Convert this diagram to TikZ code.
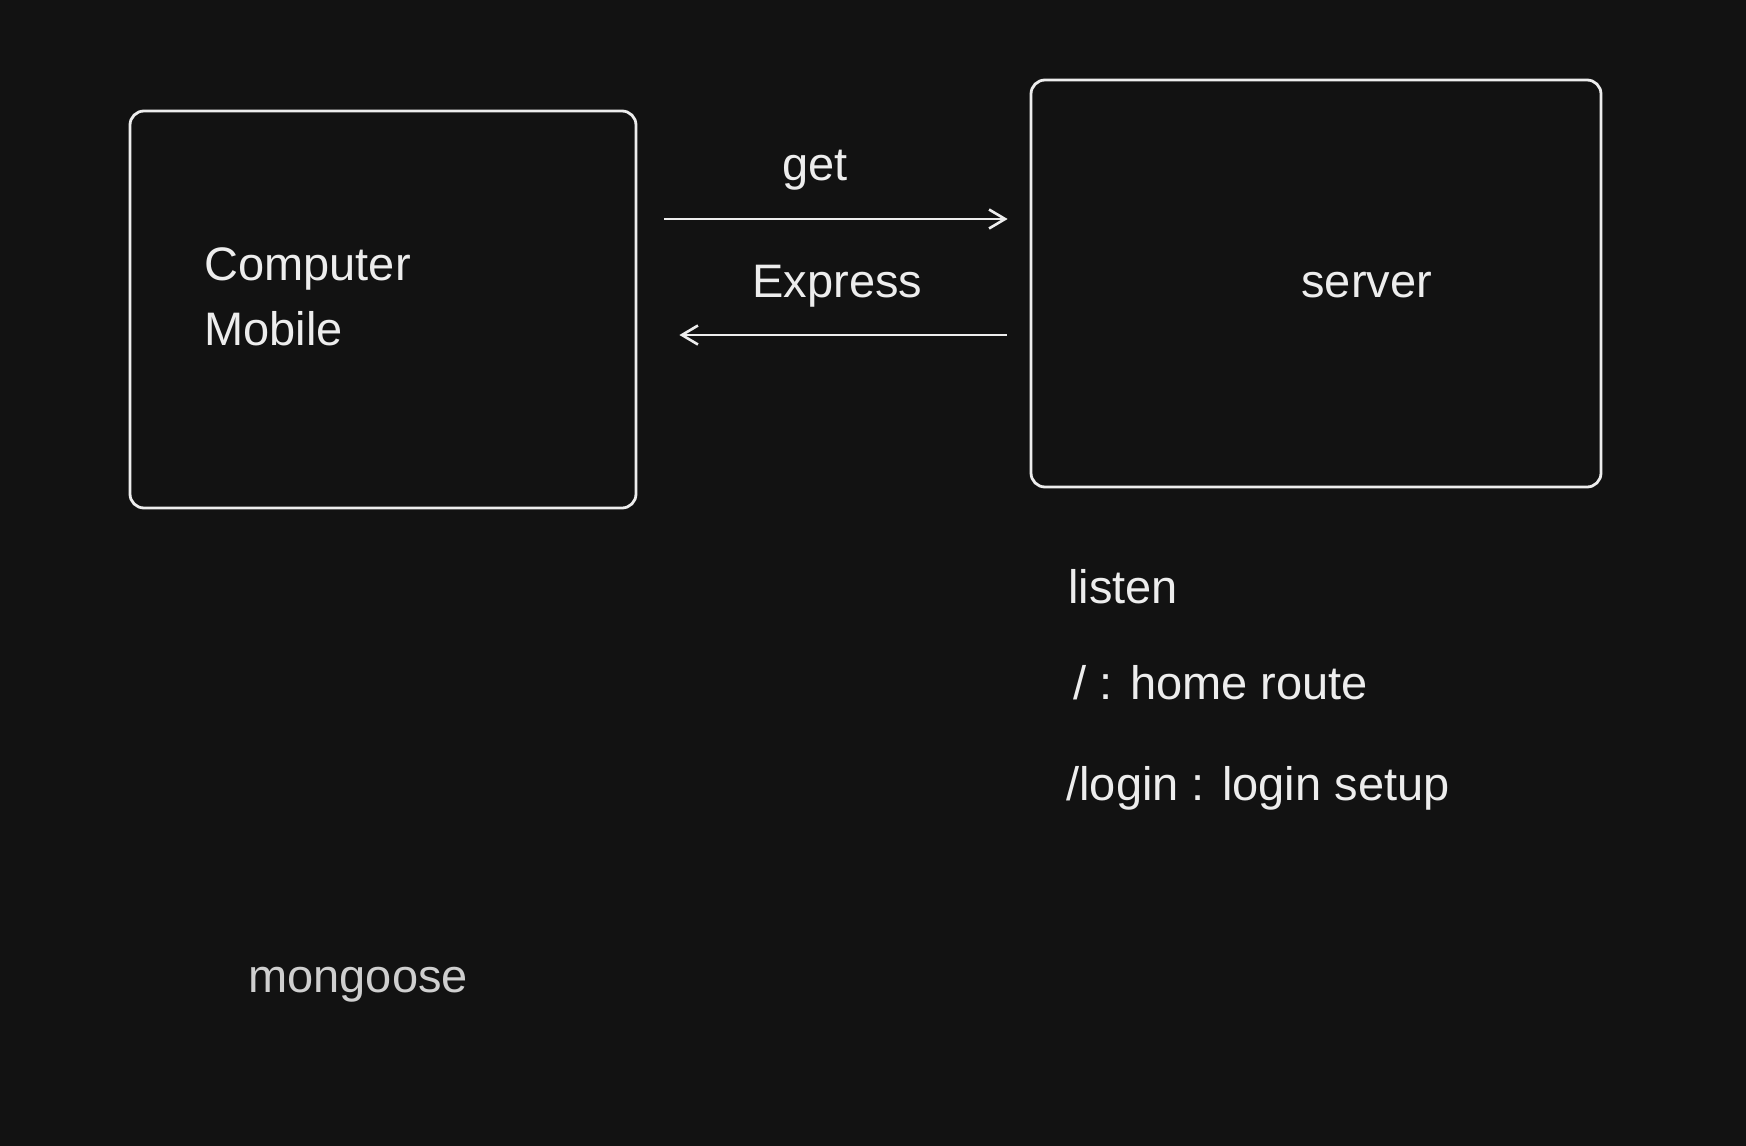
\documentclass[tikz,border=0pt]{standalone}
\usepackage{fontspec}
\setmainfont{Liberation Sans}
\usetikzlibrary{arrows.meta,positioning}
\definecolor{board}{HTML}{121212}
\definecolor{chalk}{HTML}{EDEDED}
\definecolor{dimchalk}{HTML}{CFCFCF}

\begin{document}
\begin{tikzpicture}[x=0.5pt, y=-0.5pt,
    box/.style={draw=chalk, line width=1.4pt, rounded corners=7pt, inner sep=0pt},
    word/.style={text=chalk, inner sep=0pt, anchor=base west,
        font=\fontsize{23.5}{32.5}\selectfont},
    flow/.style={draw=chalk, line width=1.3pt,
        -{Straight Barb[length=8pt, width=9.5pt, line width=1.3pt]}}]

    \fill[board] (0,0) rectangle (1746,1146);
    \useasboundingbox (0,0) rectangle (1746,1146);

    \node[box, minimum width=253pt, minimum height=198.5pt] (client) at (383,309.5) {};
    \node[box, minimum width=285pt, minimum height=203.5pt] (server) at (1316,283.5) {};

    \node[word, align=left] (device) at (204,345) {Computer\\Mobile};
    \node[word] (srvname) at (1301,297) {server};

    \coordinate (req) at (0,219);
    \coordinate (res) at (0,335);
    \draw[flow, shorten <=13.5pt, shorten >=11pt] (client.east |- req) -- (server.west |- req);
    \draw[flow, shorten <=11.5pt, shorten >=21pt] (server.west |- res) -- (client.east |- res);
    \node[word] (get) at (782,180) {get};
    \node[word] (express) at (752,297) {Express};

    \node[word] (listen) at (1068,603) {listen};
    \node[word] (home) at (1073,699) {/ : home route};
    \node[word] (login) at (1066,800) {/login : login setup};

    \node[word, text=dimchalk] (mongoose) at (248,992) {mongoose};
\end{tikzpicture}
\end{document}
